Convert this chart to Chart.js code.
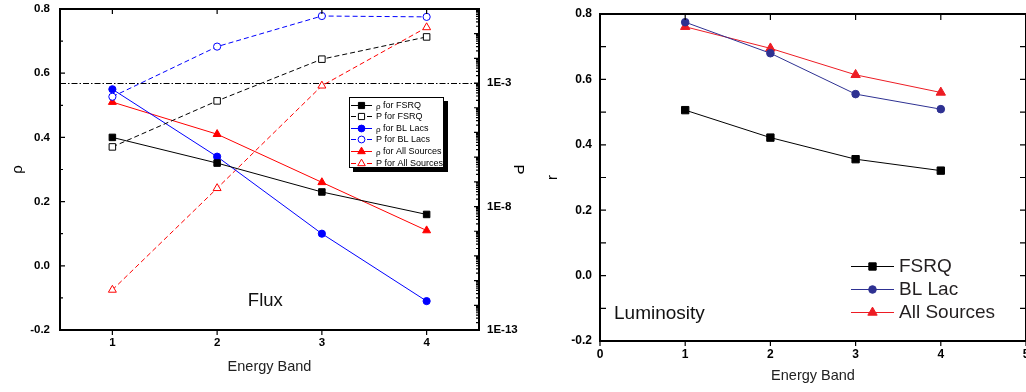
<!DOCTYPE html>
<html>
<head>
<meta charset="utf-8">
<script src="https://cdn.jsdelivr.net/npm/chart.js@4.4.0/dist/chart.umd.min.js"></script>
<style>
html, body { margin: 0; padding: 0; background: #fff; overflow: hidden; width: 1026px; height: 392px; }
#fluxBox { position: absolute; left: 0; top: 0; width: 540px; height: 392px; }
#lumBox { position: absolute; left: 520px; top: 0; width: 526px; height: 392px; }
</style>
</head>
<body>
<div id="fluxBox"><canvas id="fluxChart"></canvas></div>
<div id="lumBox"><canvas id="lumChart"></canvas></div>
<script>
// energy bands on the x axis
const bands = [1, 2, 3, 4];

// flux correlations: Spearman rho and chance probability P
const rhoFsrq = [0.40, 0.32, 0.23, 0.16];
const pFsrq = [2.6e-6, 1.9e-4, 9.3e-3, 7.4e-2];
const rhoBll = [0.55, 0.34, 0.10, -0.11];
const pBll = [2.8e-4, 3.0e-2, 0.52, 0.48];
const rhoAll = [0.51, 0.41, 0.26, 0.11];
const pAll = [4.2e-12, 5.5e-8, 7.8e-4, 0.18];
const pLimit = 1e-3;

// luminosity correlations: coefficient r
const rFsrq = [0.506, 0.422, 0.356, 0.321];
const rBll = [0.775, 0.680, 0.555, 0.509];
const rAll = [0.761, 0.695, 0.614, 0.560];

// tick values
const coefTicks = [-0.2, 0, 0.2, 0.4, 0.6, 0.8];
const coefMinor = [-0.1, 0.1, 0.3, 0.5, 0.7];
const pTicks = [1e-13, 1e-8, 1e-3];
const lumBandTicks = [0, 1, 2, 3, 4, 5];

const FONT = 'Arial, "Liberation Sans", sans-serif';
Chart.defaults.font.family = FONT;
Chart.defaults.color = '#000';

let pDecades = [], pMinor = [];
for (let d = -13; d <= 0; d++) {
    pDecades.push(Math.pow(10, d));
    if (d < 0) for (let k = 2; k <= 9; k++) pMinor.push(k * Math.pow(10, d));
}

function pts(ys) {
    return bands.map((b, i) => ({ x: b, y: ys[i] }));
}

function series(label, ys, axis, color, style, open, dashed, r) {
    return {
        label: label,
        data: pts(ys),
        yAxisID: axis,
        borderColor: color,
        borderWidth: 1,
        borderDash: dashed ? [5, 3] : [],
        pointStyle: style,
        pointRadius: r,
        pointBorderWidth: 1,
        pointBorderColor: color,
        pointBackgroundColor: open ? '#fff' : color,
        tension: 0
    };
}

// fixed box sizes so the plot area sits where we want it
function fixBox(w, h) {
    return s => {
        if (w) s.width = w;
        if (h) s.height = h;
        s.paddingTop = 0;
        s.paddingBottom = 0;
    };
}

// same shapes chart.js uses for its points
function marker(ctx, style, x, y, r, fill, stroke) {
    ctx.beginPath();
    if (style === 'rect') {
        const s = Math.SQRT1_2 * r;
        ctx.rect(x - s, y - s, 2 * s, 2 * s);
    } else if (style === 'triangle') {
        let a = 0;
        ctx.moveTo(x + Math.sin(a) * r, y - Math.cos(a) * r);
        a += Math.PI * 2 / 3;
        ctx.lineTo(x + Math.sin(a) * r, y - Math.cos(a) * r);
        a += Math.PI * 2 / 3;
        ctx.lineTo(x + Math.sin(a) * r, y - Math.cos(a) * r);
        ctx.closePath();
    } else {
        ctx.arc(x, y, r, 0, Math.PI * 2);
    }
    ctx.fillStyle = fill;
    ctx.fill();
    ctx.lineWidth = 1;
    ctx.strokeStyle = stroke;
    ctx.stroke();
}

// frame round the plot plus tick marks
const axisFrame = {
    id: 'axisFrame',
    beforeDatasetsDraw(chart, args, o) {
        if (!o.limit) return;
        const { ctx, chartArea: a } = chart;
        const y = Math.round(chart.scales[o.limit.scale].getPixelForValue(o.limit.value)) + 0.5;
        ctx.save();
        ctx.strokeStyle = '#000';
        ctx.lineWidth = 1;
        ctx.setLineDash([6, 2, 1.5, 2]);
        ctx.beginPath();
        ctx.moveTo(a.left, y);
        ctx.lineTo(a.right, y);
        ctx.stroke();
        ctx.restore();
    },
    afterDatasetsDraw(chart, args, o) {
        const { ctx, chartArea: a, scales } = chart;
        ctx.save();
        ctx.strokeStyle = '#000';
        ctx.lineWidth = 1.2;
        ctx.beginPath();
        o.marks.forEach(m => {
            const s = scales[m.scale];
            m.values.forEach(v => {
                const p = s.getPixelForValue(v);
                if (m.edge === 'bottom') { ctx.moveTo(p, a.bottom); ctx.lineTo(p, a.bottom + m.len); }
                if (m.edge === 'top') { ctx.moveTo(p, a.top); ctx.lineTo(p, a.top + m.len); }
                if (m.edge === 'left') { ctx.moveTo(a.left, p); ctx.lineTo(a.left + m.len, p); }
                if (m.edge === 'right') { ctx.moveTo(a.right, p); ctx.lineTo(a.right - m.len, p); }
            });
        });
        ctx.stroke();
        ctx.lineWidth = o.lineWidth;
        ctx.strokeRect(a.left, a.top, a.right - a.left, a.bottom - a.top);
        ctx.restore();
    }
};

// key and panel caption
const keyBox = {
    id: 'keyBox',
    afterDraw(chart, args, o) {
        const ctx = chart.ctx;
        const a = chart.chartArea;
        ctx.save();
        if (o.box) {
            const [bx, by, bw, bh] = o.box;
            ctx.fillStyle = '#000';
            ctx.fillRect(bx + o.shadow, by + o.shadow, bw, bh);
            ctx.fillStyle = '#fff';
            ctx.fillRect(bx, by, bw, bh);
            ctx.strokeStyle = '#000';
            ctx.lineWidth = 1;
            ctx.strokeRect(bx + 0.5, by + 0.5, bw - 1, bh - 1);
        }
        ctx.textBaseline = 'middle';
        ctx.textAlign = 'left';
        chart.data.datasets.forEach((ds, i) => {
            const y = Math.round(o.y + i * o.rowH) + 0.5;
            ctx.strokeStyle = ds.borderColor;
            ctx.lineWidth = 1;
            ctx.setLineDash(ds.borderDash || []);
            ctx.beginPath();
            ctx.moveTo(o.x, y);
            ctx.lineTo(o.x + o.lineLen, y);
            ctx.stroke();
            ctx.setLineDash([]);
            marker(ctx, ds.pointStyle, o.x + o.lineLen / 2, y, o.radius * ds.pointRadius,
                ds.pointBackgroundColor, ds.pointBorderColor);
            ctx.fillStyle = o.color;
            let tx = o.x + o.lineLen + o.gap;
            let txt = ds.label;
            if (txt.charAt(0) === 'ρ') {
                ctx.font = (o.size - 1) + 'px ' + FONT;
                ctx.fillText('ρ', tx, y + 1);
                tx += ctx.measureText('ρ').width;
                txt = txt.substring(1);
            }
            ctx.font = o.size + 'px ' + FONT;
            ctx.fillText(txt, tx, y);
        });
        const c = o.caption;
        ctx.font = c.size + 'px ' + FONT;
        ctx.fillStyle = '#111';
        ctx.textAlign = c.align;
        ctx.fillText(c.text, a.left + c.fx * (a.right - a.left), a.top + c.fy * (a.bottom - a.top));
        ctx.restore();
    }
};

function tickFont(size) {
    return { size: size, weight: 'bold' };
}

new Chart(document.getElementById('fluxChart'), {
    type: 'line',
    data: {
        datasets: [
            series('ρ for FSRQ', rhoFsrq, 'y', '#000', 'rect', false, false, 4.6),
            series('P for FSRQ', pFsrq, 'yP', '#000', 'rect', true, true, 4.6),
            series('ρ for BL Lacs', rhoBll, 'y', '#0000ff', 'circle', false, false, 3.6),
            series('P for BL Lacs', pBll, 'yP', '#0000ff', 'circle', true, true, 3.6),
            series('ρ for All Sources', rhoAll, 'y', '#ff0000', 'triangle', false, false, 4.6),
            series('P for All Sources', pAll, 'yP', '#ff0000', 'triangle', true, true, 4.6)
        ]
    },
    options: {
        responsive: true,
        maintainAspectRatio: false,
        animation: false,
        events: [],
        layout: { padding: { top: 9, left: 0, right: 0, bottom: 0 } },
        scales: {
            x: {
                type: 'linear', min: 0.5, max: 4.5,
                afterBuildTicks: s => { s.ticks = bands.map(v => ({ value: v })); },
                grid: { display: false, drawTicks: false },
                border: { display: false },
                ticks: { padding: 6, font: tickFont(11.5), maxRotation: 0 },
                title: { display: true, text: 'Energy Band', color: '#222', font: { size: 14.5 }, padding: { bottom: 16 } },
                afterFit: fixBox(0, 62)
            },
            y: {
                position: 'left', min: -0.2, max: 0.8,
                afterBuildTicks: s => { s.ticks = coefTicks.map(v => ({ value: v })); },
                grid: { display: false, drawTicks: false },
                border: { display: false },
                ticks: { padding: 10, font: tickFont(11.5), callback: v => v.toFixed(1) },
                title: { display: true, text: 'ρ', font: { size: 15 }, padding: { top: 9 } },
                afterFit: fixBox(60, 0)
            },
            yP: {
                type: 'logarithmic', position: 'right', min: 1e-13, max: 1,
                afterBuildTicks: s => { s.ticks = pTicks.map(v => ({ value: v })); },
                grid: { display: false, drawTicks: false },
                border: { display: false },
                ticks: { padding: 8, font: tickFont(11.5), callback: v => '1E' + Math.round(Math.log10(v)) },
                title: { display: true, text: 'P', font: { size: 15 }, padding: { top: 13 } },
                afterFit: fixBox(61, 0)
            }
        },
        plugins: {
            legend: { display: false },
            tooltip: { enabled: false },
            axisFrame: {
                lineWidth: 2,
                limit: { scale: 'yP', value: pLimit },
                marks: [
                    { scale: 'x', values: bands, edge: 'bottom', len: 5 },
                    { scale: 'x', values: bands, edge: 'top', len: 5 },
                    { scale: 'y', values: coefTicks, edge: 'left', len: 5 },
                    { scale: 'y', values: coefMinor, edge: 'left', len: 3 },
                    { scale: 'yP', values: pDecades, edge: 'right', len: 5 },
                    { scale: 'yP', values: pMinor, edge: 'right', len: 3 }
                ]
            },
            keyBox: {
                box: [349, 97, 95, 71], shadow: 4,
                x: 351, y: 104.5, rowH: 11.6, lineLen: 21, gap: 4,
                radius: 0.95, size: 9, color: '#000',
                caption: { text: 'Flux', size: 18.5, align: 'center', fx: 0.49, fy: 0.91 }
            }
        }
    },
    plugins: [axisFrame, keyBox]
});

new Chart(document.getElementById('lumChart'), {
    type: 'line',
    data: {
        datasets: [
            series('FSRQ', rFsrq, 'y', '#000', 'rect', false, false, 5.2),
            series('BL Lac', rBll, 'y', '#2e3192', 'circle', false, false, 3.8),
            series('All Sources', rAll, 'y', '#ed1c24', 'triangle', false, false, 5.4)
        ]
    },
    options: {
        responsive: true,
        maintainAspectRatio: false,
        animation: false,
        events: [],
        layout: { padding: { top: 14, left: 0, right: 20, bottom: 0 } },
        scales: {
            x: {
                type: 'linear', min: 0, max: 5,
                afterBuildTicks: s => { s.ticks = lumBandTicks.map(v => ({ value: v })); },
                grid: { display: false, drawTicks: false },
                border: { display: false },
                ticks: { padding: 6, font: tickFont(12), maxRotation: 0 },
                title: { display: true, text: 'Energy Band', color: '#222', font: { size: 14.5 }, padding: { bottom: 7 } },
                afterFit: fixBox(0, 51)
            },
            y: {
                position: 'left', min: -0.2, max: 0.8,
                afterBuildTicks: s => { s.ticks = coefTicks.map(v => ({ value: v })); },
                grid: { display: false, drawTicks: false },
                border: { display: false },
                ticks: { padding: 8, font: tickFont(12), callback: v => v.toFixed(1) },
                title: { display: true, text: 'r', font: { size: 15 }, padding: { top: 24 } },
                afterFit: fixBox(80, 0)
            }
        },
        plugins: {
            legend: { display: false },
            tooltip: { enabled: false },
            axisFrame: {
                lineWidth: 2,
                marks: [
                    { scale: 'x', values: lumBandTicks, edge: 'bottom', len: 5 },
                    { scale: 'x', values: lumBandTicks, edge: 'top', len: 6 },
                    { scale: 'y', values: coefTicks, edge: 'left', len: 6 },
                    { scale: 'y', values: coefMinor, edge: 'left', len: 6 },
                    { scale: 'y', values: coefTicks, edge: 'right', len: 6 },
                    { scale: 'y', values: coefMinor, edge: 'right', len: 6 }
                ]
            },
            keyBox: {
                x: 331, y: 266, rowH: 23, lineLen: 43, gap: 5,
                radius: 1, size: 19, color: '#231f20',
                caption: { text: 'Luminosity', size: 19, align: 'left', fx: 0.033, fy: 0.917 }
            }
        }
    },
    plugins: [axisFrame, keyBox]
});
</script>
</body>
</html>
